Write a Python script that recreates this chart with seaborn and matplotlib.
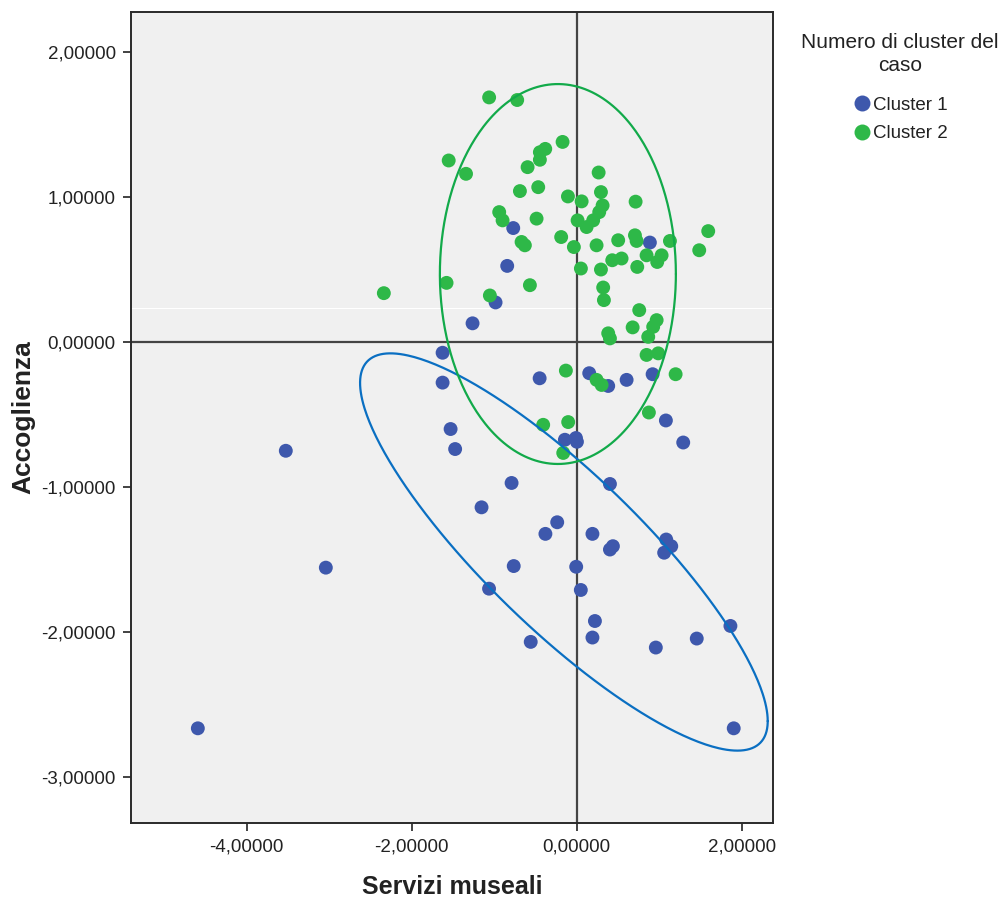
import numpy as np
import pandas as pd
import matplotlib
matplotlib.use("Agg")
import matplotlib.pyplot as plt
from matplotlib.ticker import FuncFormatter
import seaborn as sns

# ---------------- data ----------------
cluster_labels = ["Cluster 1", "Cluster 2"]

cluster1_x = [-0.768, 0.888, -0.841, -0.982, -1.261, -1.624, -1.624, -0.448, 0.153, 0.383,
              0.606, 0.921, 1.082, 1.292, -1.527, -1.472, -0.142, -0.008, 0.004, -0.788,
              0.404, -1.152, -0.235, -0.378, 0.192, 0.404, 0.440, 1.086, 1.147, 1.061,
              -3.039, -0.762, -0.005, -1.061, 0.051, 0.222, 0.192, -0.556, 0.960, 1.456,
              1.864, -4.590, 1.904, -3.524]
cluster1_y = [0.786, 0.686, 0.525, 0.273, 0.129, -0.074, -0.280, -0.250, -0.215, -0.303,
              -0.261, -0.222, -0.541, -0.693, -0.600, -0.738, -0.674, -0.662, -0.688, -0.972,
              -0.979, -1.140, -1.243, -1.323, -1.323, -1.431, -1.408, -1.362, -1.408, -1.453,
              -1.556, -1.545, -1.550, -1.701, -1.710, -1.924, -2.038, -2.068, -2.107, -2.045,
              -1.958, -2.664, -2.664, -0.750]

cluster2_x = [-1.060, -0.720, -1.550, -1.340, -0.170, -0.380, -0.445, -0.445, -0.594, 0.267,
              -0.687, -0.465, -0.105, 0.061, 0.295, 0.315, 0.274, 0.201, 0.121, 0.012,
              0.715, -0.938, -0.897, -0.485, -0.187, -0.033, 0.242, -0.667, -0.627, 0.504,
              0.707, 0.727, 1.131, 1.595, 1.486, 0.848, 1.030, 0.977, 0.432, 0.545,
              0.052, 0.295, 0.735, -1.576, -0.566, -1.051, 0.322, 0.331, 0.759, 0.679,
              0.970, 0.928, 0.868, 0.383, 0.404, 0.848, 0.989, -0.130, 0.242, 0.303,
              0.876, -0.405, -0.102, -0.162, 1.200, -2.336]
cluster2_y = [1.687, 1.669, 1.252, 1.160, 1.380, 1.332, 1.309, 1.257, 1.206, 1.169,
              1.041, 1.068, 1.004, 0.970, 1.034, 0.942, 0.896, 0.839, 0.793, 0.839,
              0.968, 0.896, 0.839, 0.851, 0.724, 0.655, 0.667, 0.690, 0.667, 0.702,
              0.736, 0.697, 0.697, 0.765, 0.633, 0.598, 0.598, 0.552, 0.564, 0.576,
              0.507, 0.500, 0.518, 0.408, 0.392, 0.321, 0.376, 0.289, 0.220, 0.101,
              0.151, 0.105, 0.036, 0.060, 0.025, -0.089, -0.078, -0.197, -0.261, -0.296,
              -0.486, -0.571, -0.552, -0.765, -0.222, 0.337]

x_ticks = [-4, -2, 0, 2]
y_ticks = [2, 1, 0, -1, -2, -3]

# ellipse parameters (data units)
ell1_center = (-0.154, -1.448)
ell1_px, ell1_qy, ell1_ry = 2.47, -1.166, 0.719
ell2_center = (-0.227, 0.469)
ell2_a, ell2_b = 1.43, 1.31

# ---------------- plotting ----------------
df = pd.DataFrame({
    "x": cluster1_x + cluster2_x,
    "y": cluster1_y + cluster2_y,
    "cluster": [cluster_labels[0]] * len(cluster1_x) + [cluster_labels[1]] * len(cluster2_x),
})

sns.set_theme(style="white")
plt.rcParams["font.family"] = ["Liberation Sans", "DejaVu Sans"]

fig = plt.figure(figsize=(10.07, 9.07), dpi=100)
ax = fig.add_axes([131 / 1007, 1 - 823 / 907, (773 - 131) / 1007, (823 - 12) / 907])
ax.set_facecolor("#F0F0F0")

palette = {"Cluster 1": "#3E58AC", "Cluster 2": "#2EB848"}

ax.axhline(0.234, color="white", lw=0.8, zorder=0.5)
ax.axvline(0, color="#444444", lw=1.6, zorder=1)
ax.axhline(0, color="#444444", lw=1.6, zorder=1)

sns.scatterplot(data=df, x="x", y="y", hue="cluster", palette=palette,
                hue_order=cluster_labels, s=100, linewidth=0, ax=ax, zorder=3)

t = np.linspace(0, 2 * np.pi, 400)
ex1 = ell1_center[0] + ell1_px * np.cos(t)
ey1 = ell1_center[1] + ell1_qy * np.cos(t) + ell1_ry * np.sin(t)
ax.plot(ex1, ey1, color="#0A6FC2", lw=1.6, zorder=4)
ex2 = ell2_center[0] + ell2_a * np.cos(t)
ey2 = ell2_center[1] + ell2_b * np.sin(t)
ax.plot(ex2, ey2, color="#12AA4A", lw=1.6, zorder=4)

ax.set_xlim(-5.40, 2.38)
ax.set_ylim(-3.317, 2.276)
ax.set_xticks(x_ticks)
ax.set_yticks(y_ticks)
fmt = FuncFormatter(lambda v, p: f"{v:.5f}".replace(".", ",").replace("\u2212", "-"))
ax.xaxis.set_major_formatter(fmt)
ax.yaxis.set_major_formatter(fmt)
ax.tick_params(axis="both", which="major", direction="out", length=6, width=1.2,
               color="#222222", labelsize=13.5, labelcolor="#222222", pad=5,
               left=True, bottom=True)
for sp in ax.spines.values():
    sp.set_color("#2a2a2a")
    sp.set_linewidth(1.4)

ax.set_xlabel("Servizi museali", fontsize=18, fontweight="bold", color="#222222", labelpad=14)
ax.set_ylabel("Accoglienza", fontsize=19, fontweight="bold", color="#222222", labelpad=4)

sns.move_legend(ax, "upper center", bbox_to_anchor=(900 / 1007, 1 - 16 / 907),
                bbox_transform=fig.transFigure, frameon=False,
                title="Numero di cluster del\ncaso", fontsize=13.5, title_fontsize=15,
                markerscale=1.15, handletextpad=0.1, labelspacing=0.6,
                handlelength=1.0)
leg = ax.get_legend()
title = leg.get_title()
title.set_multialignment("center")
title.set_linespacing(1.25)
title.set_color("#222222")
for txt in leg.get_texts():
    txt.set_color("#222222")
leg._legend_box.sep = 16

fig.savefig("out.png", dpi=100, facecolor="white")
